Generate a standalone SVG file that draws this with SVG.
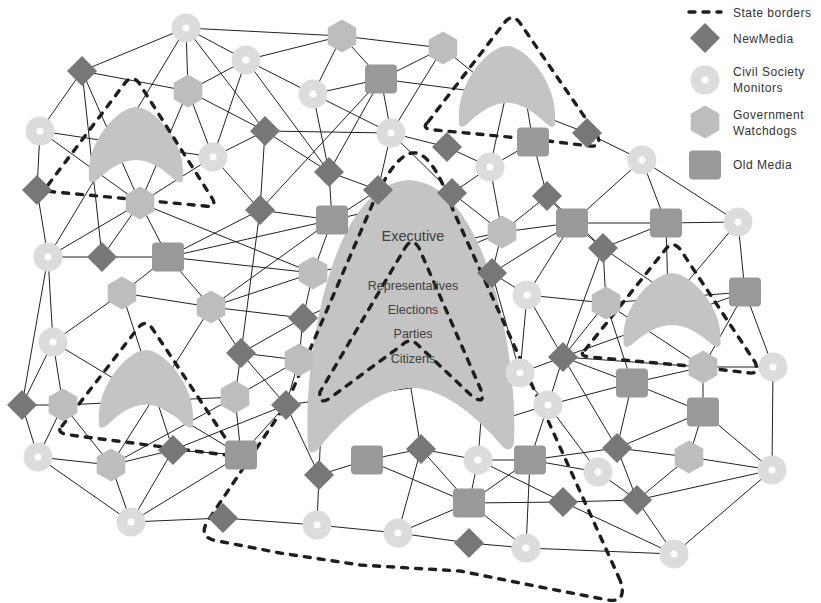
<svg xmlns="http://www.w3.org/2000/svg" width="821" height="603" viewBox="0 0 821 603">
<style>
.e line{stroke:#222;stroke-width:1}
.cv{fill:#c4c4c4}
.b{fill:none;stroke:#1e1e1e;stroke-width:3.4;stroke-dasharray:6 8;stroke-linecap:round;stroke-linejoin:round}
.t{font-family:"Liberation Sans",Arial,sans-serif;fill:#404040;text-anchor:middle}
.lg{font-family:"Liberation Sans",Arial,sans-serif;fill:#333;font-size:12px;letter-spacing:0.5px}
</style>
<defs>
<g id="civ"><circle r="14.5" fill="#dcdcdc"/><circle r="3.5" fill="#fff"/></g>
<polygon id="hex" points="0,-16.5 14.3,-8.25 14.3,8.25 0,16.5 -14.3,8.25 -14.3,-8.25" fill="#bdbdbd"/>
<polygon id="dia" points="0,-15 15,0 0,15 -15,0" fill="#777"/>
<rect id="sq" x="-16" y="-14.5" width="32" height="29" rx="4" fill="#999"/>
<path id="chev" d="M -47 70 C -50 35 -18 0 0 0 C 18 0 50 35 47 70 C 48 76 44 77 39 73 C 27 62 14 53 0 53 C -14 53 -27 62 -39 73 C -44 77 -48 76 -47 70 Z"/>
</defs>
<g id="connectors" class="e">
<line x1="186" y1="28" x2="342" y2="36"/><line x1="186" y1="28" x2="82" y2="71"/><line x1="186" y1="28" x2="188" y2="91"/><line x1="186" y1="28" x2="246" y2="60"/><line x1="186" y1="28" x2="265" y2="131"/><line x1="186" y1="28" x2="48" y2="257"/>
<line x1="246" y1="60" x2="342" y2="36"/><line x1="246" y1="60" x2="188" y2="91"/><line x1="246" y1="60" x2="213" y2="157"/><line x1="246" y1="60" x2="313" y2="94"/><line x1="246" y1="60" x2="329" y2="172"/>
<line x1="342" y1="36" x2="313" y2="94"/><line x1="342" y1="36" x2="381" y2="79"/><line x1="342" y1="36" x2="443" y2="48"/>
<line x1="443" y1="48" x2="381" y2="79"/><line x1="443" y1="48" x2="391" y2="133"/><line x1="443" y1="48" x2="485" y2="82"/>
<line x1="381" y1="79" x2="313" y2="94"/><line x1="381" y1="79" x2="329" y2="172"/><line x1="381" y1="79" x2="260" y2="210"/><line x1="381" y1="79" x2="391" y2="133"/><line x1="381" y1="79" x2="480" y2="92"/>
<line x1="587" y1="133" x2="548" y2="118"/>
<line x1="82" y1="71" x2="188" y2="91"/><line x1="82" y1="71" x2="40" y2="131"/><line x1="82" y1="71" x2="140" y2="203"/><line x1="82" y1="71" x2="102" y2="257"/>
<line x1="188" y1="91" x2="140" y2="203"/><line x1="188" y1="91" x2="213" y2="157"/><line x1="188" y1="91" x2="265" y2="131"/>
<line x1="313" y1="94" x2="329" y2="172"/><line x1="313" y1="94" x2="391" y2="133"/>
<line x1="265" y1="131" x2="391" y2="133"/><line x1="265" y1="131" x2="213" y2="157"/><line x1="265" y1="131" x2="260" y2="210"/><line x1="265" y1="131" x2="329" y2="172"/>
<line x1="391" y1="133" x2="378" y2="190"/><line x1="391" y1="133" x2="447" y2="147"/><line x1="391" y1="133" x2="452" y2="193"/>
<line x1="40" y1="131" x2="213" y2="157"/><line x1="40" y1="131" x2="140" y2="203"/><line x1="40" y1="131" x2="37" y2="190"/>
<line x1="213" y1="157" x2="140" y2="203"/><line x1="213" y1="157" x2="260" y2="210"/>
<line x1="37" y1="190" x2="48" y2="257"/>
<line x1="140" y1="203" x2="48" y2="257"/><line x1="140" y1="203" x2="102" y2="257"/><line x1="140" y1="203" x2="168" y2="257"/><line x1="140" y1="203" x2="313" y2="273"/>
<line x1="329" y1="172" x2="378" y2="190"/><line x1="329" y1="172" x2="332" y2="220"/>
<line x1="378" y1="190" x2="332" y2="220"/><line x1="378" y1="190" x2="421" y2="449"/>
<line x1="447" y1="147" x2="490" y2="167"/>
<line x1="452" y1="193" x2="490" y2="167"/><line x1="452" y1="193" x2="502" y2="232"/>
<line x1="490" y1="167" x2="533" y2="142"/><line x1="490" y1="167" x2="502" y2="232"/><line x1="490" y1="167" x2="507" y2="90"/>
<line x1="533" y1="142" x2="524" y2="88"/><line x1="533" y1="142" x2="547" y2="196"/>
<line x1="587" y1="133" x2="642" y2="160"/>
<line x1="642" y1="160" x2="572" y2="223"/><line x1="642" y1="160" x2="666" y2="223"/><line x1="642" y1="160" x2="738" y2="222"/>
<line x1="547" y1="196" x2="502" y2="232"/><line x1="547" y1="196" x2="572" y2="223"/><line x1="547" y1="196" x2="603" y2="248"/>
<line x1="260" y1="210" x2="332" y2="220"/><line x1="260" y1="210" x2="168" y2="257"/><line x1="260" y1="210" x2="241" y2="353"/>
<line x1="332" y1="220" x2="313" y2="273"/><line x1="332" y1="220" x2="211" y2="307"/><line x1="332" y1="220" x2="452" y2="193"/><line x1="332" y1="220" x2="168" y2="257"/>
<line x1="48" y1="257" x2="102" y2="257"/><line x1="48" y1="257" x2="53" y2="342"/><line x1="48" y1="257" x2="22" y2="405"/>
<line x1="102" y1="257" x2="168" y2="257"/>
<line x1="168" y1="257" x2="122" y2="293"/><line x1="168" y1="257" x2="211" y2="307"/><line x1="168" y1="257" x2="313" y2="273"/>
<line x1="122" y1="293" x2="211" y2="307"/><line x1="122" y1="293" x2="53" y2="342"/><line x1="122" y1="293" x2="173" y2="450"/>
<line x1="211" y1="307" x2="313" y2="273"/><line x1="211" y1="307" x2="303" y2="318"/><line x1="211" y1="307" x2="241" y2="353"/><line x1="211" y1="307" x2="111" y2="465"/>
<line x1="313" y1="273" x2="303" y2="318"/><line x1="313" y1="273" x2="502" y2="232"/>
<line x1="572" y1="223" x2="666" y2="223"/><line x1="572" y1="223" x2="603" y2="248"/><line x1="572" y1="223" x2="527" y2="295"/><line x1="572" y1="223" x2="502" y2="232"/><line x1="572" y1="223" x2="492" y2="273"/>
<line x1="666" y1="223" x2="738" y2="222"/><line x1="666" y1="223" x2="603" y2="248"/><line x1="666" y1="223" x2="668" y2="295"/>
<line x1="738" y1="222" x2="745" y2="292"/><line x1="738" y1="222" x2="682" y2="288"/>
<line x1="502" y1="232" x2="492" y2="273"/><line x1="502" y1="232" x2="303" y2="318"/>
<line x1="492" y1="273" x2="527" y2="295"/><line x1="492" y1="273" x2="520" y2="373"/><line x1="492" y1="273" x2="299" y2="360"/><line x1="492" y1="273" x2="478" y2="460"/>
<line x1="603" y1="248" x2="563" y2="357"/><line x1="603" y1="248" x2="606" y2="303"/><line x1="603" y1="248" x2="665" y2="291"/>
<line x1="527" y1="295" x2="606" y2="303"/><line x1="527" y1="295" x2="563" y2="357"/><line x1="527" y1="295" x2="520" y2="373"/>
<line x1="606" y1="303" x2="563" y2="357"/><line x1="606" y1="303" x2="632" y2="383"/><line x1="606" y1="303" x2="745" y2="292"/><line x1="606" y1="303" x2="703" y2="367"/>
<line x1="745" y1="292" x2="773" y2="367"/><line x1="745" y1="292" x2="703" y2="367"/><line x1="745" y1="292" x2="563" y2="357"/>
<line x1="53" y1="342" x2="22" y2="405"/><line x1="53" y1="342" x2="63" y2="405"/><line x1="53" y1="342" x2="241" y2="455"/>
<line x1="241" y1="353" x2="303" y2="318"/><line x1="241" y1="353" x2="299" y2="360"/><line x1="241" y1="353" x2="235" y2="397"/><line x1="241" y1="353" x2="286" y2="405"/>
<line x1="303" y1="318" x2="299" y2="360"/>
<line x1="299" y1="360" x2="286" y2="405"/><line x1="299" y1="360" x2="235" y2="397"/>
<line x1="563" y1="357" x2="520" y2="373"/><line x1="563" y1="357" x2="548" y2="405"/><line x1="563" y1="357" x2="632" y2="383"/><line x1="563" y1="357" x2="617" y2="448"/><line x1="563" y1="357" x2="703" y2="367"/>
<line x1="520" y1="373" x2="548" y2="405"/><line x1="520" y1="373" x2="286" y2="405"/>
<line x1="703" y1="367" x2="773" y2="367"/><line x1="703" y1="367" x2="632" y2="383"/><line x1="703" y1="367" x2="703" y2="412"/>
<line x1="773" y1="367" x2="772" y2="470"/>
<line x1="632" y1="383" x2="548" y2="405"/><line x1="632" y1="383" x2="617" y2="448"/><line x1="632" y1="383" x2="703" y2="412"/>
<line x1="22" y1="405" x2="63" y2="405"/><line x1="22" y1="405" x2="38" y2="457"/>
<line x1="63" y1="405" x2="38" y2="457"/><line x1="63" y1="405" x2="111" y2="465"/><line x1="63" y1="405" x2="235" y2="397"/>
<line x1="235" y1="397" x2="111" y2="465"/><line x1="235" y1="397" x2="241" y2="455"/>
<line x1="286" y1="405" x2="319" y2="475"/><line x1="286" y1="405" x2="173" y2="450"/><line x1="286" y1="405" x2="241" y2="455"/>
<line x1="548" y1="405" x2="530" y2="460"/><line x1="548" y1="405" x2="598" y2="472"/><line x1="548" y1="405" x2="500" y2="420"/>
<line x1="703" y1="412" x2="617" y2="448"/><line x1="703" y1="412" x2="689" y2="457"/><line x1="703" y1="412" x2="772" y2="470"/>
<line x1="38" y1="457" x2="111" y2="465"/><line x1="38" y1="457" x2="131" y2="522"/>
<line x1="111" y1="465" x2="173" y2="450"/><line x1="111" y1="465" x2="131" y2="522"/>
<line x1="173" y1="450" x2="241" y2="455"/><line x1="173" y1="450" x2="131" y2="522"/>
<line x1="241" y1="455" x2="131" y2="522"/>
<line x1="319" y1="475" x2="367" y2="460"/><line x1="319" y1="475" x2="317" y2="525"/><line x1="319" y1="475" x2="321" y2="425"/>
<line x1="367" y1="460" x2="421" y2="449"/><line x1="367" y1="460" x2="469" y2="503"/>
<line x1="421" y1="449" x2="478" y2="460"/><line x1="421" y1="449" x2="469" y2="503"/><line x1="421" y1="449" x2="398" y2="533"/>
<line x1="478" y1="460" x2="530" y2="460"/><line x1="478" y1="460" x2="469" y2="503"/><line x1="478" y1="460" x2="563" y2="502"/>
<line x1="530" y1="460" x2="469" y2="503"/><line x1="530" y1="460" x2="526" y2="548"/><line x1="530" y1="460" x2="617" y2="448"/><line x1="530" y1="460" x2="598" y2="472"/>
<line x1="617" y1="448" x2="689" y2="457"/><line x1="617" y1="448" x2="637" y2="500"/>
<line x1="598" y1="472" x2="637" y2="500"/>
<line x1="689" y1="457" x2="637" y2="500"/><line x1="689" y1="457" x2="772" y2="470"/>
<line x1="772" y1="470" x2="637" y2="500"/><line x1="772" y1="470" x2="674" y2="554"/>
<line x1="469" y1="503" x2="563" y2="502"/><line x1="469" y1="503" x2="398" y2="533"/><line x1="469" y1="503" x2="526" y2="548"/>
<line x1="563" y1="502" x2="637" y2="500"/><line x1="563" y1="502" x2="674" y2="554"/>
<line x1="637" y1="500" x2="674" y2="554"/>
<line x1="131" y1="522" x2="223" y2="518"/><line x1="223" y1="518" x2="317" y2="525"/><line x1="317" y1="525" x2="398" y2="533"/><line x1="398" y1="533" x2="469" y2="543"/><line x1="469" y1="543" x2="526" y2="548"/><line x1="526" y1="548" x2="674" y2="554"/>
</g>
<g id="chevrons">
<path class="cv" d="M 308 446 C 303 360 330 184 409 180 C 488 184 518 360 514 440 C 514 450 508 452 502 446 C 480 420 445 388 412 388 C 380 388 345 415 320 447 C 314 455 308 454 308 446 Z"/>
<use href="#chev" class="cv" transform="translate(136,107)"/>
<use href="#chev" class="cv" transform="translate(507,46) scale(1.02,1.07)"/>
<use href="#chev" class="cv" transform="translate(672,273) scale(1.03,0.98)"/>
<use href="#chev" class="cv" transform="translate(146,350) scale(1,1.03)"/>
</g>
<g id="state-borders">
<path class="b" d="M 620 580 L 453 210 Q 432 150 412 153 Q 394 156 373 203 L 287 403 L 207 522 Q 198 538 218 541 L 280 553 L 360 565 L 460 571 L 540 587 L 608 600 Q 628 603 620 580 Z"/>
<path class="b" d="M 405 248 Q 412 236 419 248 L 481 390 Q 486 404 474 398 L 418 345 Q 410 337 402 345 L 330 398 Q 318 406 320 392 Z"/>
<path class="b" d="M 48 185 L 125 83 Q 132 74 139 83 L 212 198 Q 218 208 205 206 L 55 192 Q 42 191 48 185 Z"/>
<path class="b" d="M 428 122 L 505 22 Q 513 13 520 23 L 597 135 Q 603 147 590 146 L 540 140 L 435 130 Q 420 129 428 122 Z"/>
<path class="b" d="M 585 350 L 665 250 Q 672 240 680 249 L 755 362 Q 760 374 750 373 L 690 366 L 590 357 Q 578 356 585 350 Z"/>
<path class="b" d="M 62 426 L 138 328 Q 145 319 152 328 L 232 448 Q 236 456 226 455 L 70 435 Q 55 433 62 426 Z"/>
</g>
<g id="nodes">
<g id="n1"><use href="#civ" x="186" y="28"/></g>
<g id="n2"><use href="#civ" x="246" y="60"/></g>
<g id="n3"><use href="#hex" x="342" y="36"/></g>
<g id="n4"><use href="#hex" x="443" y="48"/></g>
<g id="n5"><use href="#sq" x="381" y="79"/></g>
<g id="n6"><use href="#dia" x="82" y="71"/></g>
<g id="n7"><use href="#hex" x="188" y="91"/></g>
<g id="n8"><use href="#civ" x="313" y="94"/></g>
<g id="n9"><use href="#dia" x="265" y="131"/></g>
<g id="n10"><use href="#civ" x="391" y="133"/></g>
<g id="n11"><use href="#civ" x="40" y="131"/></g>
<g id="n12"><use href="#civ" x="213" y="157"/></g>
<g id="n13"><use href="#dia" x="37" y="190"/></g>
<g id="n14"><use href="#hex" x="140" y="203"/></g>
<g id="n15"><use href="#dia" x="329" y="172"/></g>
<g id="n16"><use href="#dia" x="378" y="190"/></g>
<g id="n17"><use href="#dia" x="447" y="147"/></g>
<g id="n18"><use href="#dia" x="452" y="193"/></g>
<g id="n19"><use href="#civ" x="490" y="167"/></g>
<g id="n20"><use href="#sq" x="533" y="142"/></g>
<g id="n21"><use href="#dia" x="587" y="133"/></g>
<g id="n22"><use href="#civ" x="642" y="160"/></g>
<g id="n23"><use href="#dia" x="547" y="196"/></g>
<g id="n24"><use href="#dia" x="260" y="210"/></g>
<g id="n25"><use href="#sq" x="332" y="220"/></g>
<g id="n26"><use href="#civ" x="48" y="257"/></g>
<g id="n27"><use href="#dia" x="102" y="257"/></g>
<g id="n28"><use href="#sq" x="168" y="257"/></g>
<g id="n29"><use href="#hex" x="122" y="293"/></g>
<g id="n30"><use href="#hex" x="211" y="307"/></g>
<g id="n31"><use href="#hex" x="313" y="273"/></g>
<g id="n32"><use href="#sq" x="572" y="223"/></g>
<g id="n33"><use href="#sq" x="666" y="223"/></g>
<g id="n34"><use href="#civ" x="738" y="222"/></g>
<g id="n35"><use href="#hex" x="502" y="232"/></g>
<g id="n36"><use href="#dia" x="492" y="273"/></g>
<g id="n37"><use href="#dia" x="603" y="248"/></g>
<g id="n38"><use href="#civ" x="527" y="295"/></g>
<g id="n39"><use href="#hex" x="606" y="303"/></g>
<g id="n40"><use href="#sq" x="745" y="292"/></g>
<g id="n41"><use href="#civ" x="53" y="342"/></g>
<g id="n42"><use href="#dia" x="241" y="353"/></g>
<g id="n43"><use href="#dia" x="303" y="318"/></g>
<g id="n44"><use href="#hex" x="299" y="360"/></g>
<g id="n45"><use href="#dia" x="563" y="357"/></g>
<g id="n46"><use href="#civ" x="520" y="373"/></g>
<g id="n47"><use href="#hex" x="703" y="367"/></g>
<g id="n48"><use href="#civ" x="773" y="367"/></g>
<g id="n49"><use href="#sq" x="632" y="383"/></g>
<g id="n50"><use href="#dia" x="22" y="405"/></g>
<g id="n51"><use href="#hex" x="63" y="405"/></g>
<g id="n52"><use href="#hex" x="235" y="397"/></g>
<g id="n53"><use href="#dia" x="286" y="405"/></g>
<g id="n54"><use href="#civ" x="548" y="405"/></g>
<g id="n55"><use href="#sq" x="703" y="412"/></g>
<g id="n56"><use href="#civ" x="38" y="457"/></g>
<g id="n57"><use href="#hex" x="111" y="465"/></g>
<g id="n58"><use href="#dia" x="173" y="450"/></g>
<g id="n59"><use href="#sq" x="241" y="455"/></g>
<g id="n60"><use href="#dia" x="319" y="475"/></g>
<g id="n61"><use href="#sq" x="367" y="460"/></g>
<g id="n62"><use href="#dia" x="421" y="449"/></g>
<g id="n63"><use href="#civ" x="478" y="460"/></g>
<g id="n64"><use href="#sq" x="530" y="460"/></g>
<g id="n65"><use href="#dia" x="617" y="448"/></g>
<g id="n66"><use href="#civ" x="598" y="472"/></g>
<g id="n67"><use href="#hex" x="689" y="457"/></g>
<g id="n68"><use href="#civ" x="772" y="470"/></g>
<g id="n69"><use href="#sq" x="469" y="503"/></g>
<g id="n70"><use href="#dia" x="563" y="502"/></g>
<g id="n71"><use href="#dia" x="637" y="500"/></g>
<g id="n72"><use href="#civ" x="131" y="522"/></g>
<g id="n73"><use href="#dia" x="223" y="518"/></g>
<g id="n74"><use href="#civ" x="317" y="525"/></g>
<g id="n75"><use href="#civ" x="398" y="533"/></g>
<g id="n76"><use href="#dia" x="469" y="543"/></g>
<g id="n77"><use href="#civ" x="526" y="548"/></g>
<g id="n78"><use href="#civ" x="674" y="554"/></g>
</g>
<g id="center-labels">
<text class="t" x="413" y="241" font-size="14.5">Executive</text>
<text class="t" x="413" y="290" font-size="12.5">Representatives</text>
<text class="t" x="413" y="314" font-size="12.5">Elections</text>
<text class="t" x="413" y="338" font-size="12.5">Parties</text>
<text class="t" x="413" y="363" font-size="12.5">Citizens</text>
</g>
<g id="legend">
<line x1="689" y1="12" x2="721" y2="12" class="b"/>
<use href="#dia" x="705" y="38"/>
<use href="#civ" x="705" y="80"/>
<use href="#hex" x="705" y="122"/>
<use href="#sq" x="705" y="165"/>
<text class="lg" x="733" y="17">State borders</text>
<text class="lg" x="733" y="43">NewMedia</text>
<text class="lg" x="733" y="76">Civil Society</text>
<text class="lg" x="733" y="92">Monitors</text>
<text class="lg" x="733" y="119">Government</text>
<text class="lg" x="733" y="135">Watchdogs</text>
<text class="lg" x="733" y="169">Old Media</text>
</g>
</svg>
